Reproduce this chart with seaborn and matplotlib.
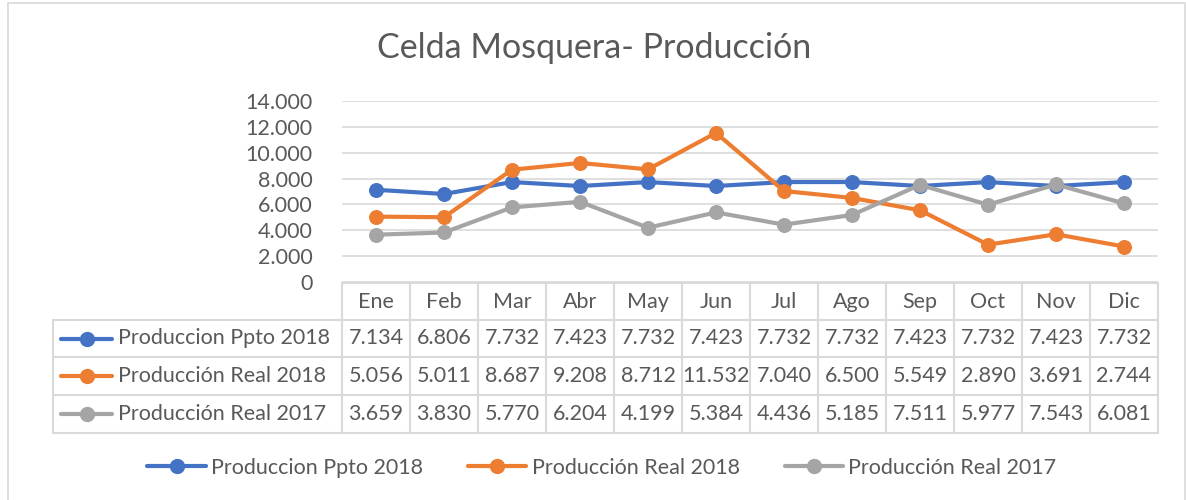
import matplotlib
matplotlib.use("Agg")
import matplotlib.pyplot as plt
import seaborn as sns
import pandas as pd
from matplotlib.lines import Line2D
from matplotlib.patches import Rectangle

months = ["Ene", "Feb", "Mar", "Abr", "May", "Jun", "Jul", "Ago", "Sep", "Oct", "Nov", "Dic"]
series_names = ["Produccion Ppto 2018", "Producción Real 2018", "Producción Real 2017"]
ppto_2018 = [7134, 6806, 7732, 7423, 7732, 7423, 7732, 7732, 7423, 7732, 7423, 7732]
real_2018 = [5056, 5011, 8687, 9208, 8712, 11532, 7040, 6500, 5549, 2890, 3691, 2744]
real_2017 = [3659, 3830, 5770, 6204, 4199, 5384, 4436, 5185, 7511, 5977, 7543, 6081]
series_values = [ppto_2018, real_2018, real_2017]
colors = ["#4472C4", "#ED7D31", "#A5A5A5"]
yticks = [0, 2000, 4000, 6000, 8000, 10000, 12000, 14000]
title = "Celda Mosquera- Producción"

sns.set_theme(style="white")
plt.rcParams["font.family"] = ["Lato", "DejaVu Sans"]
TXT = "#595959"
GRID = "#D9D9D9"
FS = 15.5

W, H = 1186, 500
fig = plt.figure(figsize=(W / 100, H / 100), dpi=100)

def fx(px):
    return px / W

def fy(py):
    return 1 - py / H

# outer chart border
fig.add_artist(Rectangle((fx(8), fy(600)), fx(1177), 597 / H, transform=fig.transFigure,
                         fill=False, edgecolor="#D9D9D9", linewidth=1.2))

left, right, top, bottom = 342, 1158, 101, 282
ax = fig.add_axes([fx(left), fy(bottom), fx(right - left), (bottom - top) / H])

x_idx = list(range(len(months)))
for name, vals, c in zip(series_names, series_values, colors):
    df = pd.DataFrame({"x": x_idx, "y": vals})
    sns.lineplot(data=df, x="x", y="y", ax=ax, color=c, linewidth=3,
                 marker="o", markersize=10, markeredgecolor=c, label=name, legend=False)

ax.set_xlim(-0.5, len(months) - 0.5)
ax.set_ylim(0, 14000)
ax.set_yticks(yticks)
ax.set_yticklabels([f"{v:,}".replace(",", ".") for v in yticks], color=TXT, fontsize=FS)
ax.tick_params(axis="y", length=0, pad=21)
ax.set_xticks([])
ax.set_xlabel("")
ax.set_ylabel("")
ax.yaxis.grid(True, color=GRID, linewidth=1.2)
for s in ax.spines.values():
    s.set_visible(False)
ax.set_facecolor("none")

fig.text(fx(594), fy(48), title, ha="center", va="center", fontsize=24.5, color=TXT)

# data table
col_w = (right - left) / len(months)
row_y = [283, 320, 357, 395, 433]
lw = 1.5
def hline(x0, x1, y):
    fig.add_artist(Line2D([fx(x0), fx(x1)], [fy(y), fy(y)], color=GRID, linewidth=lw))
def vline(x, y0, y1):
    fig.add_artist(Line2D([fx(x), fx(x)], [fy(y0), fy(y1)], color=GRID, linewidth=lw))

hline(left, right, row_y[0])
for y in row_y[1:]:
    hline(53, right, y)
vline(53, row_y[1], row_y[-1])
for i in range(len(months) + 1):
    vline(left + i * col_w, row_y[0], row_y[-1])

for i, m in enumerate(months):
    xc = ax.transData.transform((i, 0))[0] / W
    fig.text(xc, fy((row_y[0] + row_y[1]) / 2), m, ha="center", va="center", fontsize=FS, color=TXT)

for r, (name, vals, c) in enumerate(zip(series_names, series_values, colors)):
    yc = fy((row_y[r + 1] + row_y[r + 2]) / 2)
    fig.add_artist(Line2D([fx(61), fx(112)], [yc, yc], color=c, linewidth=3,
                          marker=None, solid_capstyle="round"))
    fig.add_artist(Line2D([fx(87)], [yc], color=c, marker="o", markersize=10, linewidth=0))
    fig.text(fx(118), yc, name, ha="left", va="center", fontsize=FS, color=TXT)
    for i, v in enumerate(vals):
        xc = ax.transData.transform((i, 0))[0] / W
        fig.text(xc, yc, f"{v:,}".replace(",", "."), ha="center", va="center",
                 fontsize=FS, color=TXT)

handles = [Line2D([0], [0], color=c, linewidth=3, marker="o", markersize=10) for c in colors]
fig.legend(handles, series_names, loc="center", bbox_to_anchor=(fx(602), fy(468)), ncol=3,
           frameon=False, fontsize=FS, labelcolor=TXT, handlelength=2.7, columnspacing=2.1,
           handletextpad=0.25)

fig.savefig("out.png", dpi=100, facecolor="white")
